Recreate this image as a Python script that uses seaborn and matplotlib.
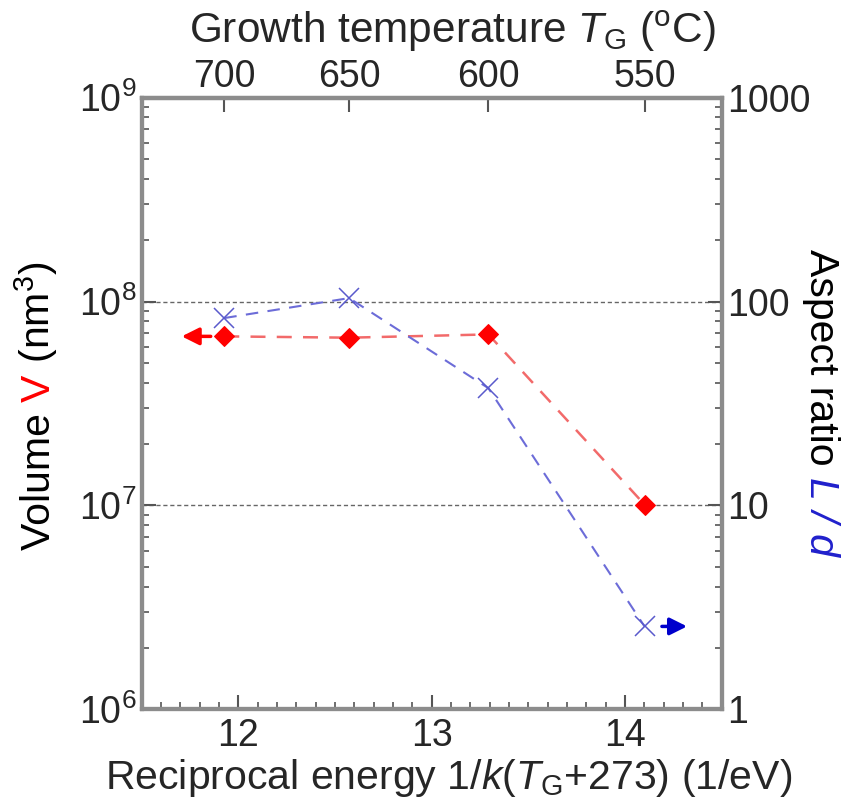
import numpy as np
import matplotlib
matplotlib.use("Agg")
import matplotlib.pyplot as plt
import seaborn as sns
from matplotlib.ticker import LogLocator, FuncFormatter, MultipleLocator, NullLocator, FixedLocator, NullFormatter

# ---- data ----
temps_C = [700, 650, 600, 550]
k_B = 8.617e-5
recip_energy = [1.0 / (k_B * (t + 273.0)) for t in temps_C]
volume_nm3 = [6.75e7, 6.65e7, 6.9e7, 1.01e7]
aspect_ratio = [83, 104, 37.6, 2.55]
top_ticks = [700, 650, 600, 550]
bottom_ticks = [12, 13, 14]

sns.set_style("ticks")
plt.rcParams["font.family"] = ["Liberation Sans", "DejaVu Sans"]
plt.rcParams["mathtext.fontset"] = "custom"
plt.rcParams["mathtext.rm"] = "Liberation Sans"
plt.rcParams["mathtext.it"] = "Liberation Sans:italic"
plt.rcParams["mathtext.sf"] = "Liberation Sans"

TICK_FS = 27
LAB_FS = 29.5
SPINE_C = "#8c8c8c"
TICK_C = "#555555"

W, H = 846, 809
fig = plt.figure(figsize=(W / 100, H / 100), dpi=100)
ax = fig.add_axes([141.7 / W, 1 - 709.3 / H, 580 / W, 611.6 / H])
ax2 = ax.twinx()

ax.set_yscale("log")
ax.set_ylim(1e6, 1e9)
ax.set_xlim(11.5, 14.5)
ax.yaxis.set_major_locator(LogLocator(base=10, numticks=10))
ax.yaxis.set_minor_locator(LogLocator(base=10, subs=np.arange(2, 10), numticks=20))
ax.yaxis.set_minor_formatter(NullFormatter())
ax.grid(axis="y", which="major", ls=(0, (3, 2)), color="0.4", lw=1.0)
ax.xaxis.set_major_locator(FixedLocator(bottom_ticks))
ax.xaxis.set_minor_locator(MultipleLocator(0.1))

ax2.set_yscale("log")
ax2.set_ylim(1, 1000)
ax2.yaxis.set_major_locator(LogLocator(base=10, numticks=10))
ax2.yaxis.set_minor_locator(LogLocator(base=10, subs=np.arange(2, 10), numticks=20))
ax2.yaxis.set_minor_formatter(NullFormatter())
ax2.yaxis.set_major_formatter(FuncFormatter(lambda v, p: "%g" % v))

# data lines
sns.lineplot(x=recip_energy, y=volume_nm3, ax=ax, sort=False, color="#f26a6a",
             lw=1.8, linestyle=(0, (6, 4.5)), marker="D", ms=10,
             markerfacecolor="#ff0000", markeredgecolor="#ff0000", zorder=5)
sns.lineplot(x=recip_energy, y=aspect_ratio, ax=ax2, sort=False, color="#6c6cd8",
             lw=1.5, linestyle=(0, (6, 4.5)), marker="x", ms=14, mew=1.1,
             markeredgecolor="#5a5acc", zorder=5)

# axis indicator arrows
ax.annotate("", xy=(recip_energy[0] - 0.22, volume_nm3[0]),
            xytext=(recip_energy[0] - 0.07, volume_nm3[0]),
            arrowprops=dict(arrowstyle="-|>", color="#ff0000", lw=2.5,
                            mutation_scale=26, shrinkA=0, shrinkB=0))
ax2.annotate("", xy=(recip_energy[-1] + 0.22, aspect_ratio[-1]),
             xytext=(recip_energy[-1] + 0.09, aspect_ratio[-1]),
             arrowprops=dict(arrowstyle="-|>", color="#0000cc", lw=2.5,
                             mutation_scale=26, shrinkA=0, shrinkB=0))

# top axis: growth temperature
def to_T(x):
    x = np.asarray(x, dtype=float)
    with np.errstate(divide="ignore", invalid="ignore"):
        return 1.0 / (k_B * x) - 273.0

def to_x(T):
    T = np.asarray(T, dtype=float)
    with np.errstate(divide="ignore", invalid="ignore"):
        return 1.0 / (k_B * (T + 273.0))

sec = ax.secondary_xaxis("top", functions=(to_T, to_x))
sec.xaxis.set_major_locator(FixedLocator(top_ticks))
sec.xaxis.set_minor_locator(NullLocator())
sec.xaxis.set_major_formatter(FuncFormatter(lambda v, p: "%d" % round(v)))
sec.tick_params(direction="in", length=10, width=1.5, color=TICK_C,
                labelsize=TICK_FS, pad=2)
sec.spines["top"].set_color(SPINE_C)
sec.spines["top"].set_linewidth(3)

for a in (ax, ax2):
    for s in a.spines.values():
        s.set_color(SPINE_C)
        s.set_linewidth(3)
    a.set_ylabel("")
ax.tick_params(axis="both", which="major", direction="in", length=10, width=1.5,
               color=TICK_C, labelsize=TICK_FS, top=False, right=False, pad=4)
ax.tick_params(axis="both", which="minor", direction="in", length=5, width=1.2,
               color=TICK_C, top=False, right=False)
ax.tick_params(axis="x", pad=6)
ax2.tick_params(axis="y", which="major", direction="in", length=10, width=1.5,
                color=TICK_C, labelsize=TICK_FS, left=False, pad=4)
ax2.tick_params(axis="y", which="minor", direction="in", length=5, width=1.2,
                color=TICK_C, left=False)

# titles on top / bottom
fig.text(452 / W, 1 - 43 / H,
         r"Growth temperature $\mathit{T}_{\rm G}$ ($^{\rm o}$C)",
         ha="center", va="baseline", fontsize=30.5)
fig.text(449 / W, 1 - 789 / H,
         r"Reciprocal energy 1/$\mathit{k}$($\mathit{T}_{\rm G}$+273) (1/eV)",
         ha="center", va="baseline", fontsize=LAB_FS)

# multicolour rotated labels
fig.canvas.draw()
renderer = fig.canvas.get_renderer()

def rotated_label(pieces, x_base, y_center, rotation):
    texts = []
    for s, c, st in pieces:
        t = fig.text(0, 0, s, color=c, style=st, fontsize=LAB_FS, rotation=rotation,
                     rotation_mode="anchor", ha="left", va="baseline",
                     transform=None)
        texts.append(t)
    lens = [t.get_window_extent(renderer).height for t in texts]
    total = sum(lens)
    if rotation == 90:
        y = (H - y_center) - total / 2
        for t, L in zip(texts, lens):
            t.set_position((x_base, y))
            y += L
    else:
        y = (H - y_center) + total / 2
        for t, L in zip(texts, lens):
            t.set_position((x_base, y))
            y -= L

rotated_label([("Volume ", "black", "normal"), ("V", "#ff0000", "normal"),
               (r" (nm$^3$)", "black", "normal")], 50, 406, 90)
rotated_label([("Aspect ratio ", "black", "normal"), ("L / d", "#2020cc", "italic")],
              810, 402, 270)

fig.savefig("out.png", dpi=100)
